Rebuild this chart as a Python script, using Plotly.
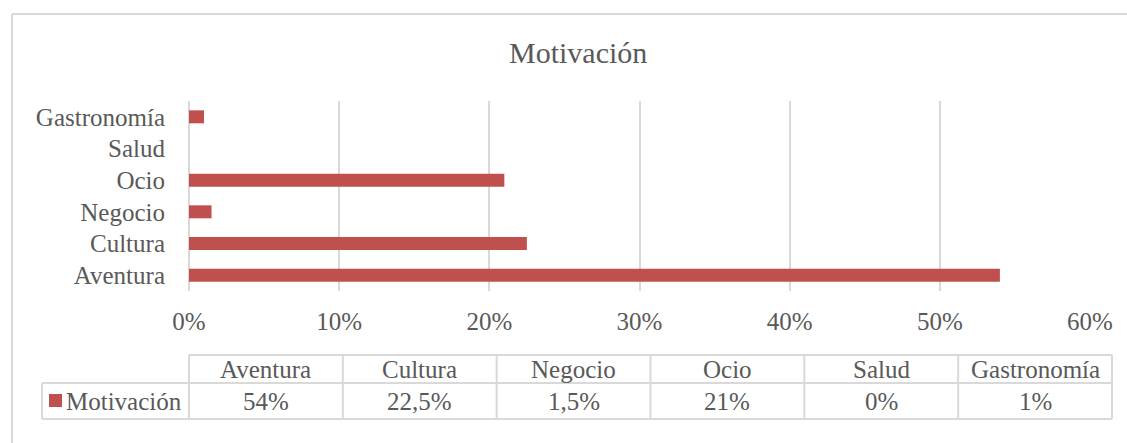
import plotly.graph_objects as go

# ---- data ----
categories = ["Aventura", "Cultura", "Negocio", "Ocio", "Salud", "Gastronomía"]
values = [54, 22.5, 1.5, 21, 0, 1]
series_name = "Motivación"
chart_title = "Motivación"
x_ticks = [0, 10, 20, 30, 40, 50, 60]
x_tick_labels = ["0%", "10%", "20%", "30%", "40%", "50%", "60%"]

W, H = 1127, 443
FONT = "Liberation Serif"
TXT = "#595959"
GRID = "#D9D9D9"
BAR = "#C0504D"
FS = 25


def px(x):
    return x / W


def py(y):
    return 1 - y / H


fig = go.Figure()
fig.add_trace(go.Bar(
    y=categories, x=values, orientation="h", name=series_name,
    marker=dict(color=BAR, line=dict(width=0)), width=0.41,
    showlegend=False, hoverinfo="x+y",
))

shapes = []
annotations = []


def hline(y, x0, x1):
    shapes.append(dict(type="line", xref="paper", yref="paper",
                       x0=px(x0), x1=px(x1), y0=py(y), y1=py(y),
                       line=dict(color=GRID, width=2)))


def vline(x, y0, y1):
    shapes.append(dict(type="line", xref="paper", yref="paper",
                       x0=px(x), x1=px(x), y0=py(y0), y1=py(y1),
                       line=dict(color=GRID, width=2)))


# outer chart frame (left and top edges visible)
hline(14, 12, 1127)
vline(12, 14, 443)

# data table
t_left, t_right = 189, 1112
leg_left = 42
r0, r1, r2 = 355, 383, 419
n = len(categories)
cw = (t_right - t_left) / n
hline(r0, t_left, t_right)
hline(r1, leg_left, t_right)
hline(r2, leg_left, t_right)
vline(leg_left, r1, r2)
for i in range(n + 1):
    vline(t_left + i * cw, r0, r2)


def fmt(v):
    s = f"{v:g}".replace(".", ",")
    return s + "%"


for i, (c, v) in enumerate(zip(categories, values)):
    cx = t_left + (i + 0.5) * cw
    annotations.append(dict(xref="paper", yref="paper", x=px(cx), y=py((r0 + r1) / 2),
                            text=c, showarrow=False, xanchor="center", yanchor="middle",
                            font=dict(family=FONT, size=FS, color=TXT)))
    annotations.append(dict(xref="paper", yref="paper", x=px(cx), y=py((r1 + r2) / 2),
                            text=fmt(v), showarrow=False, xanchor="center", yanchor="middle",
                            font=dict(family=FONT, size=FS, color=TXT)))

# legend key in table
shapes.append(dict(type="rect", xref="paper", yref="paper",
                   x0=px(49), x1=px(62), y0=py(407), y1=py(394),
                   fillcolor=BAR, line=dict(width=0)))
annotations.append(dict(xref="paper", yref="paper", x=px(64), y=py((r1 + r2) / 2),
                        text=series_name, showarrow=False, xanchor="left", yanchor="middle",
                        font=dict(family=FONT, size=FS, color=TXT)))

# title
annotations.append(dict(xref="paper", yref="paper", x=px(578), y=py(52),
                        text=chart_title, showarrow=False, xanchor="center", yanchor="middle",
                        font=dict(family=FONT, size=30, color=TXT)))

fig.update_layout(
    width=W, height=H, autosize=False,
    margin=dict(l=0, r=0, t=0, b=0, pad=0, autoexpand=False),
    paper_bgcolor="white", plot_bgcolor="white",
    font=dict(family=FONT, size=FS, color=TXT),
    shapes=shapes, annotations=annotations,
    xaxis=dict(domain=[px(189), px(1090)], range=[0, 60], automargin=False,
               tickmode="array", tickvals=x_ticks, ticktext=x_tick_labels,
               showgrid=True, gridcolor=GRID, gridwidth=2,
               zeroline=True, zerolinecolor=GRID, zerolinewidth=2,
               showline=False, ticks="",
               ticklabelstandoff=13,
               tickfont=dict(family=FONT, size=FS, color=TXT), fixedrange=True),
    yaxis=dict(domain=[py(291), py(101)], type="category", automargin=False,
               categoryorder="array", categoryarray=categories,
               range=[-0.5, len(categories) - 0.5], showgrid=False,
               zeroline=False, showline=False, ticks="",
               ticklabelstandoff=23,
               tickfont=dict(family=FONT, size=FS, color=TXT), fixedrange=True),
)

fig.write_html("out.html")
